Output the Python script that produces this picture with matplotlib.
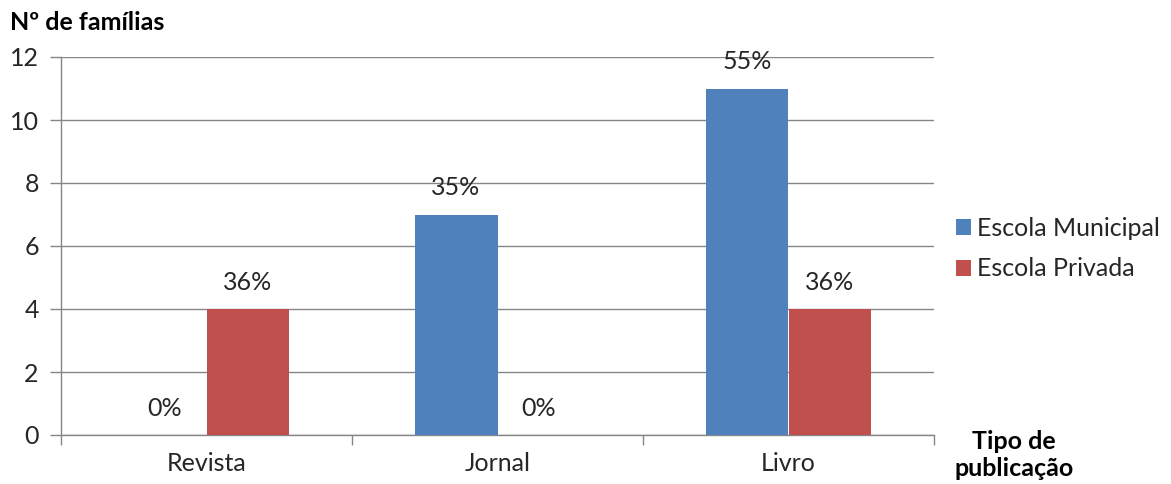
import matplotlib
matplotlib.use("Agg")
import matplotlib.pyplot as plt
import numpy as np

categories = ["Revista", "Jornal", "Livro"]
municipal = [0, 7, 11]
privada = [4, 0, 4]
municipal_labels = ["0%", "35%", "55%"]
privada_labels = ["36%", "0%", "36%"]
series_names = ["Escola Municipal", "Escola Privada"]
yticks = [0, 2, 4, 6, 8, 10, 12]

plt.rcParams["font.family"] = ["Lato", "DejaVu Sans"]
BLUE = "#4F81BD"
RED = "#C0504D"
GRID = "#868686"
TEXT = "#262626"
FS = 18

W, H = 1171, 484
fig = plt.figure(figsize=(W / 100, H / 100), dpi=100)
ax = fig.add_axes([61 / W, 1 - 435 / H, (934 - 61) / W, (435 - 57) / H])

x = np.arange(len(categories))
bw = 0.285
ax.bar(x - bw / 2, municipal, bw, color=BLUE, label=series_names[0], zorder=3)
ax.bar(x + bw / 2, privada, bw, color=RED, label=series_names[1], zorder=3)

for xi, v, lab in zip(x, municipal, municipal_labels):
    ax.annotate(lab, (xi - bw / 2, v), xytext=(0, 27), textcoords="offset pixels",
                ha="center", va="center", fontsize=FS, color=TEXT)
for xi, v, lab in zip(x, privada, privada_labels):
    ax.annotate(lab, (xi + bw / 2, v), xytext=(0, 27), textcoords="offset pixels",
                ha="center", va="center", fontsize=FS, color=TEXT)

ax.set_xlim(-0.5, len(categories) - 0.5)
ax.set_ylim(0, 12)
ax.set_yticks(yticks)
ax.yaxis.grid(True, color=GRID, linewidth=1.0, zorder=0)
ax.set_axisbelow(True)
for s in ["top", "right"]:
    ax.spines[s].set_visible(False)
for s in ["left", "bottom"]:
    ax.spines[s].set_color(GRID)
    ax.spines[s].set_linewidth(1.0)

# category boundary ticks on the x axis, labels centred in each category
ax.set_xticks(np.arange(len(categories) + 1) - 0.5)
ax.set_xticklabels([])
ax.set_xticks(x, minor=True)
ax.set_xticklabels(categories, minor=True, fontsize=FS, color=TEXT)
ax.tick_params(axis="x", which="major", length=7, color=GRID, width=1.0, direction="out")
ax.tick_params(axis="x", which="minor", length=0, pad=12)
ax.tick_params(axis="y", length=8, color=GRID, width=1.0, labelsize=FS,
               labelcolor=TEXT, pad=8)

fig.text(10 / W, 1 - 22 / H, "Nº de famílias", fontsize=FS, fontweight="bold",
         color="black", ha="left", va="center")
fig.text(1014 / W, 1 - 455 / H, "Tipo de\npublicação", fontsize=FS, fontweight="bold",
         color="black", ha="center", va="center", linespacing=1.25)

leg = fig.legend(loc="upper left", bbox_to_anchor=(946 / W, 1 - 207 / H),
                 frameon=False, fontsize=FS, handlelength=0.6, handleheight=0.6,
                 handletextpad=0.25, labelspacing=0.7, borderaxespad=0)
for t in leg.get_texts():
    t.set_color(TEXT)

fig.savefig("out.png", dpi=100)
